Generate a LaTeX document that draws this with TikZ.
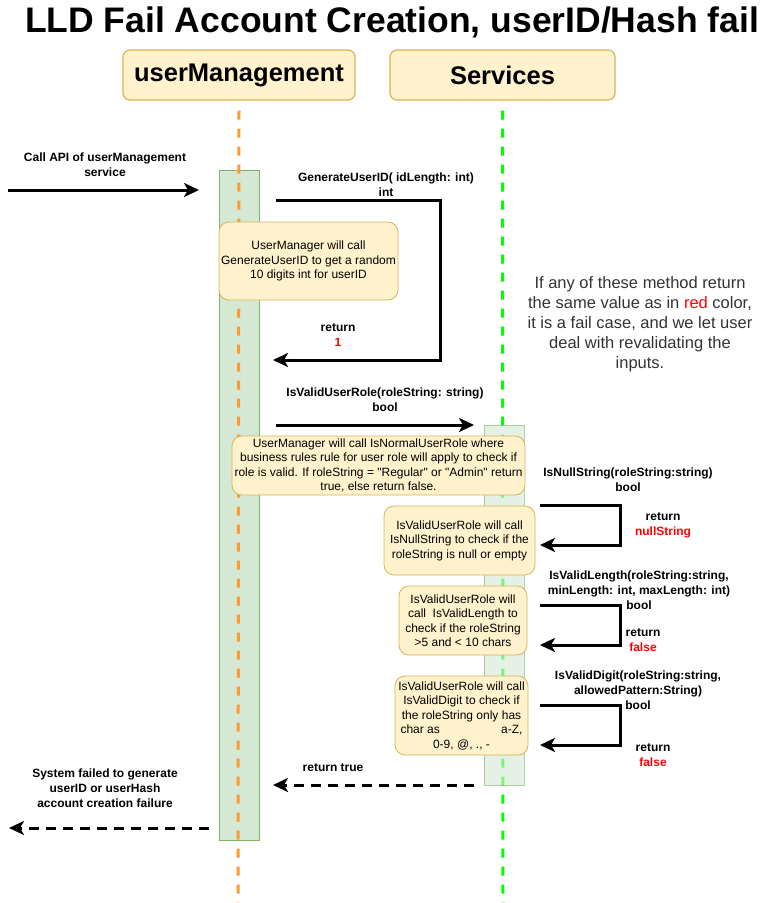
\documentclass[tikz,border=0pt]{standalone}
\usepackage{fontspec}
\setmainfont{Liberation Sans}
\usetikzlibrary{arrows.meta,positioning}
\definecolor{notefill}{RGB}{255,242,204}
\definecolor{notedraw}{RGB}{214,182,86}
\definecolor{barfill}{RGB}{213,232,212}
\definecolor{bardraw}{RGB}{130,179,102}
\definecolor{lifeorange}{RGB}{255,153,51}
\definecolor{lifegreen}{RGB}{0,255,0}
\definecolor{failred}{RGB}{255,0,0}
\definecolor{darktext}{RGB}{51,51,51}

\begin{document}
\begin{tikzpicture}[x=1pt,y=-1pt,
    head/.style={draw=notedraw,fill=notefill,rounded corners=7pt,line width=1.2pt,minimum height=50pt,font=\fontsize{25.5}{30}\selectfont\bfseries},
    note/.style={draw=notedraw,fill=notefill,rounded corners=10pt,line width=0.8pt,align=center,inner sep=0pt,font=\fontsize{12}{14.5}\selectfont},
    bar/.style={draw=bardraw,fill=barfill,minimum width=40pt,line width=0.8pt},
    life/.style={line width=3pt,dash pattern=on 9pt off 9pt},
    msg/.style={line width=3pt,-{Stealth[length=15pt,width=14pt,inset=4pt]}},
    reply/.style={msg,dash pattern=on 10pt off 7pt},
    lbl/.style={align=center,font=\fontsize{12}{15}\selectfont\bfseries}
]
\useasboundingbox (0,0) rectangle (779,903);

\node[font=\fontsize{35.5}{40}\selectfont\bfseries] (title) at (392,22) {LLD Fail Account Creation, userID/Hash fail};
\node[head,minimum width=232pt] (um) at (239,75) {userManagement};
\node[head,minimum width=225pt] (svc) at (502.5,75) {Services};

\node[bar,minimum height=670pt] (umbar) at (239,505) {};
\coordinate (umend) at (238,903);
\coordinate (svcend) at (503,903);
\draw[life,lifeorange] ([yshift=-10pt]um.south) -- (umend);
\draw[life,lifegreen] ([yshift=-10pt]svc.south) -- (svcend);
\node[bar,minimum height=360pt,opacity=0.6] (svcbar) at (504,605) {};

% incoming call
\coordinate (apistart) at (8,190);
\coordinate (apiend) at (199,190);
\draw[msg] (apistart) -- (apiend);
\node[lbl] (apilbl) at (105,165) {Call API of userManagement\\service};

% GenerateUserID
\coordinate (genout) at (276,200);
\coordinate (genturn) at (440,360);
\coordinate (genback) at (273,360);
\draw[msg] (genout) -| (genturn) -- (genback);
\node[lbl] (genlbl) at (386,185) {GenerateUserID( idLength: int)\\int};
\node[lbl] (genret) at (338,335) {return\\\textcolor{failred}{1}};
\node[note,minimum width=179pt,minimum height=78pt] (gennote) at (308.5,261) {UserManager will call\\GenerateUserID to get a random\\10 digits int for userID};

% IsValidUserRole
\coordinate (roleout) at (276,425);
\coordinate (rolein) at (474,425);
\draw[msg] (roleout) -- (rolein);
\node[lbl] (rolelbl) at (385,400) {IsValidUserRole(roleString: string)\\bool};
\node[note,minimum width=293pt,minimum height=59pt] (rolenote) at (378.5,465.5) {UserManager will call IsNormalUserRole where\\business rules rule for user role will apply to check if\\role is valid. If roleString = \textquotedbl Regular\textquotedbl{} or \textquotedbl Admin\textquotedbl{} return\\true, else return false.};

\foreach \n/\yt/\yb in {null/505/545,len/605/645,dig/705/745}{
  \coordinate (\n out) at (540,\yt);
  \coordinate (\n turn) at (620,\yb);
  \coordinate (\n back) at (540,\yb);
  \draw[msg] (\n out) -| (\n turn) -- (\n back);
}

\node[lbl] (nulllbl) at (628,479.5) {IsNullString(roleString:string)\\bool};
\node[lbl] (nullret) at (663,525.5) {return\\\textcolor{failred}{nullString}};
\node[note,minimum width=151pt,minimum height=69pt] (nullnote) at (459.5,540.5) {IsValidUserRole will call\\IsNullString to check if the\\roleString is null or empty};

\node[lbl] (lenlbl) at (639,590) {IsValidLength(roleString:string,\\minLength: int, maxLength: int)\\bool};
\node[lbl] (lenret) at (643,640.5) {return\\\textcolor{failred}{false}};
\node[note,minimum width=128pt,minimum height=69pt] (lennote) at (463,620.5) {IsValidUserRole will\\call\ \ IsValidLength to\\check if the roleString\\>5 and < 10 chars};

\node[lbl] (diglbl) at (638,690) {IsValidDigit(roleString:string,\\allowedPattern:String)\\bool};
\node[lbl] (digret) at (653,755.5) {return\\\textcolor{failred}{false}};
\node[note,minimum width=133pt,minimum height=79pt] (dignote) at (461.5,715.5) {IsValidUserRole will call\\IsValidDigit to check if\\the roleString only has\\\makebox[122pt]{char as\hfill a-Z,}\\0-9, @, ., -};

% replies
\coordinate (trueout) at (474,785);
\coordinate (truein) at (273,785);
\draw[reply] (trueout) -- (truein);
\node[lbl] (truelbl) at (333,768) {return true};

\coordinate (failout) at (209,828);
\coordinate (failend) at (9,828);
\draw[reply] (failout) -- (failend);
\node[lbl] (faillbl) at (105,788.5) {System failed to generate\\userID or userHash\\account creation failure};

\node[align=center,text=darktext,font=\fontsize{16.5}{20}\selectfont] (hint) at (640,324) {If any of these method return\\the same value as in \textcolor{failred}{red} color,\\it is a fail case, and we let user\\deal with revalidating the\\inputs.};
\end{tikzpicture}
\end{document}
